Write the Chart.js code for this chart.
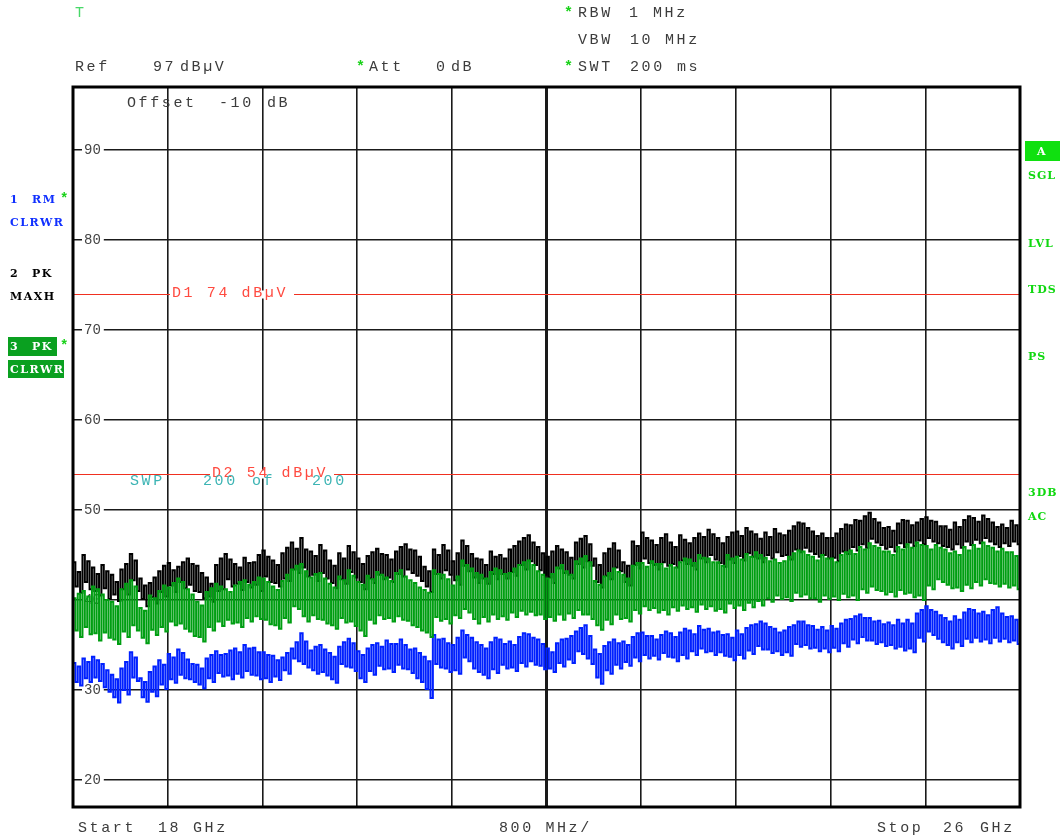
<!DOCTYPE html>
<html>
<head>
<meta charset="utf-8">
<script src="https://cdn.jsdelivr.net/npm/chart.js@4.4.0/dist/chart.umd.min.js"></script>
<style>
  html, body { margin: 0; padding: 0; background: #fff; }
  canvas { display: block; }
</style>
</head>
<body>
<canvas id="spectrum" width="1064" height="840"></canvas>
<script>
// Sweep 18 GHz .. 26 GHz, 401 points, 800 MHz per division
const startGHz = 18;
const stopGHz = 26;

const xTicks = [18, 18.8, 19.6, 20.4, 21.2, 22, 22.8, 23.6, 24.4, 25.2, 26];
const yTicks = [20, 30, 40, 50, 60, 70, 80, 90];
const yMin = 17;
const yMax = 97;

// display lines (dBµV)
const displayLineNames = ['D1', 'D2'];
const displayLines = [74, 54];

// trace 1: RM, clear/write (dBµV)
const trace1 = [
  33.0,30.9,32.6,30.5,33.5,31.3,33.1,30.9,33.7,31.4,33.3,31.0,32.9,30.3,32.2,29.8,31.7,29.2,31.2,28.6,
  32.4,30.0,33.1,29.5,34.2,31.4,33.6,31.0,31.3,29.2,30.9,28.7,32.0,29.8,32.6,29.3,33.3,30.6,32.8,30.1,
  34.0,31.2,33.6,30.8,34.5,31.7,34.1,31.3,33.4,31.2,32.9,30.9,32.8,30.6,32.4,30.2,33.5,31.3,33.9,30.9,
  34.3,31.9,33.9,31.5,34.0,31.6,34.4,31.2,34.6,31.8,34.2,31.4,35.0,32.1,34.6,31.7,34.7,31.6,34.2,31.2,
  34.2,31.3,33.9,30.9,33.8,31.5,33.3,31.1,33.6,32.2,34.1,31.8,34.6,33.5,35.3,33.2,36.3,32.9,35.4,32.5,
  34.4,32.2,34.8,31.8,35.0,32.0,34.5,31.6,34.1,31.2,33.7,30.8,34.8,32.9,35.3,32.6,35.7,32.5,35.2,32.1,
  34.3,31.3,33.9,30.9,34.6,32.1,35.0,31.7,35.2,32.7,34.8,32.3,35.5,32.4,35.1,32.0,35.1,32.8,35.6,32.4,
  35.0,32.3,34.5,31.9,34.6,31.3,34.1,30.9,33.7,30.1,33.2,29.1,36.1,32.9,35.6,32.5,35.7,32.4,35.2,32.0,
  35.0,32.2,35.8,31.8,36.6,33.6,36.1,33.2,35.8,32.4,35.3,32.0,35.0,31.7,34.6,31.3,35.3,32.3,35.8,31.9,
  35.6,32.8,35.1,32.4,35.4,32.5,35.0,32.1,35.9,33.0,36.3,32.6,36.2,33.2,35.8,32.8,35.6,32.7,35.1,32.3,
  34.6,32.4,34.2,32.0,35.2,33.0,35.6,32.6,35.7,33.4,36.0,33.0,36.5,34.3,36.9,34.0,37.2,33.5,36.0,32.9,
  34.5,31.4,34.0,30.7,34.9,32.2,35.3,31.8,35.6,32.8,35.2,32.4,35.4,33.1,35.0,32.7,35.9,33.6,36.3,33.2,
  36.4,33.9,36.0,33.5,36.0,33.8,35.6,33.4,36.1,34.1,36.5,33.7,36.3,33.6,35.9,33.2,36.4,33.9,36.8,33.5,
  36.6,34.3,36.2,33.9,37.1,34.6,36.7,34.2,36.8,34.3,36.4,33.9,36.5,34.2,36.1,33.8,36.2,33.7,35.8,33.3,
  36.6,33.9,36.2,33.5,36.9,34.4,37.2,34.0,37.3,34.9,37.6,34.5,37.4,34.5,37.0,34.1,36.8,34.3,36.4,33.9,
  36.6,34.2,37.0,33.8,37.2,35.1,37.6,34.8,37.6,35.0,37.2,34.6,37.1,34.7,36.7,34.3,37.0,34.6,36.6,34.2,
  37.1,34.7,36.8,34.3,37.4,35.2,37.8,34.8,37.9,35.6,38.2,35.2,38.4,35.9,38.0,35.5,38.0,35.5,37.6,35.1,
  37.7,35.3,37.3,34.9,37.5,35.0,37.2,34.6,37.8,34.8,37.4,34.4,37.8,34.6,37.4,34.2,38.5,35.8,38.9,35.4,
  39.3,36.5,38.9,36.1,38.7,35.7,38.3,35.3,38.0,35.0,37.6,34.6,38.2,35.3,37.8,34.9,38.6,35.7,39.0,35.3,
  38.9,35.8,38.5,35.4,38.7,35.6,38.3,35.2,38.9,35.8,39.2,35.4,38.5,35.7,38.1,35.3,38.2,35.5,37.8,35.1,
  37.5
];

// trace 2: PK, max hold (dBµV)
const trace2 = [
  44.2,41.5,43.1,40.8,45.0,42.0,44.3,41.2,43.6,41.0,42.9,40.5,43.9,41.3,43.2,40.1,42.8,40.6,42.0,39.9,
  43.4,41.2,44.0,40.6,45.1,42.2,44.4,41.0,42.4,40.1,41.6,39.3,41.9,40.3,42.5,39.6,43.2,40.9,43.8,40.4,
  44.1,41.6,43.3,40.9,43.7,42.0,44.2,41.3,44.6,41.7,44.0,41.0,43.8,40.9,43.0,40.2,42.5,40.4,41.8,39.8,
  43.9,41.0,44.6,41.2,45.1,42.3,44.5,41.5,44.0,41.8,43.6,41.1,44.7,42.0,44.1,41.4,44.2,41.7,45.0,41.0,
  45.5,42.6,44.8,42.0,44.4,41.9,43.9,41.5,45.2,42.4,45.8,42.1,46.4,43.4,45.7,43.0,46.9,43.6,45.6,42.6,
  45.4,42.8,44.9,42.1,46.1,43.0,45.5,42.4,44.4,41.9,43.8,41.3,45.2,42.3,44.6,41.8,46.0,43.1,45.3,42.5,
  44.6,42.0,44.0,41.2,44.9,42.4,45.3,41.9,45.7,42.8,45.1,42.3,45.0,42.5,44.5,42.0,45.4,42.9,45.9,42.6,
  46.2,43.4,45.6,43.0,45.5,42.7,44.8,42.1,43.7,41.5,43.2,40.9,45.6,42.9,45.0,42.4,46.1,43.3,45.5,42.8,
  44.3,42.2,45.2,41.7,46.6,43.8,46.0,43.2,45.1,42.5,44.6,41.9,44.5,42.4,43.9,41.8,45.4,42.9,44.8,42.3,
  45.0,42.9,44.6,42.4,45.6,43.1,46.0,42.7,46.5,43.9,46.9,43.4,47.2,44.3,46.4,43.9,45.9,43.3,45.2,42.8,
  44.8,42.5,45.4,41.9,46.0,43.5,45.6,43.0,45.3,42.8,44.7,42.4,46.4,44.0,46.8,43.6,47.1,44.3,46.2,43.8,
  44.6,42.0,43.9,41.4,45.2,42.7,45.7,42.3,46.3,43.6,45.5,43.2,44.2,42.0,43.8,41.6,46.5,43.9,46.0,43.5,
  47.5,44.6,46.9,44.1,46.6,43.9,46.1,43.4,46.9,44.2,47.3,43.8,46.4,44.0,45.9,43.6,47.2,44.4,46.7,44.0,
  46.3,43.8,46.9,43.4,47.4,44.6,47.0,44.2,47.8,45.0,47.3,44.5,46.9,44.1,46.3,43.7,47.0,44.5,47.5,44.1,
  47.6,44.9,47.1,44.4,48.0,45.2,47.6,44.8,47.3,44.6,46.8,44.2,47.5,45.0,47.0,44.6,47.9,45.3,47.4,44.9,
  47.2,45.0,47.7,44.5,48.2,45.6,48.6,45.3,48.5,45.8,48.0,45.4,47.6,45.1,47.1,44.8,47.4,45.0,46.9,44.6,
  46.9,44.7,47.4,44.3,47.9,45.4,48.4,45.1,48.3,45.9,48.9,45.5,48.8,46.2,49.3,45.8,49.7,46.8,49.0,46.4,
  48.6,46.1,48.0,45.7,48.1,45.9,47.7,45.4,48.5,46.3,48.9,45.9,48.8,46.4,48.3,46.0,48.6,46.6,49.0,46.2,
  49.2,46.9,48.8,46.5,48.7,46.3,48.2,46.0,48.2,45.9,47.8,45.6,48.6,46.2,48.1,45.8,48.9,46.5,49.3,46.1,
  49.1,46.7,48.7,46.3,49.4,46.9,49.0,46.5,48.6,46.2,48.1,45.9,48.4,46.3,48.0,46.0,48.8,46.5,48.3,46.2,
  47.8
];

// trace 3: PK, clear/write (dBµV)
const trace3 = [
  40.2,36.6,40.7,35.9,41.0,37.0,40.4,36.2,41.5,36.3,41.2,35.5,40.6,36.4,40.0,35.8,39.8,35.6,39.3,35.1,
  41.2,36.5,41.8,35.9,42.2,37.2,41.5,36.6,39.1,35.8,38.8,35.2,40.5,36.7,40.2,36.1,41.0,37.0,41.6,36.5,
  41.4,37.6,41.9,37.2,42.4,37.4,42.0,36.8,41.2,36.5,40.6,36.0,39.8,35.9,39.4,35.4,40.9,37.0,41.3,36.6,
  41.8,37.6,41.5,37.1,41.2,37.8,40.9,37.4,41.6,37.5,42.0,37.0,42.2,38.0,41.7,37.6,42.0,38.2,42.5,37.9,
  42.4,37.8,42.0,37.3,41.5,37.2,41.1,36.8,42.1,38.0,42.8,37.5,43.4,39.3,43.8,39.0,44.0,38.2,43.2,37.6,
  42.5,38.3,42.9,37.9,43.0,37.8,42.4,37.4,41.8,37.2,41.4,36.8,42.6,38.0,42.2,37.5,43.3,37.6,42.7,37.1,
  42.0,36.6,41.7,36.0,42.7,37.8,42.3,37.4,43.1,38.3,42.8,37.9,42.5,38.0,42.1,37.6,43.0,38.2,43.3,37.8,
  42.6,37.7,42.2,37.2,41.9,37.0,41.4,36.6,41.1,36.4,40.8,35.9,43.3,38.1,42.9,37.7,42.8,37.9,42.3,37.4,
  41.6,38.3,42.6,38.0,44.4,39.0,43.9,38.6,43.5,37.9,43.0,37.4,42.8,38.1,42.4,37.6,43.1,38.4,43.5,37.9,
  43.3,38.2,42.9,37.8,43.0,38.6,43.5,38.1,43.9,38.8,44.2,38.4,44.4,38.7,43.9,38.3,43.2,38.4,42.8,37.9,
  42.4,38.1,42.9,37.7,43.6,38.4,43.9,37.8,43.2,38.5,42.8,38.0,44.3,38.9,44.6,38.4,44.9,38.4,44.2,37.9,
  42.1,37.2,41.7,36.7,42.6,37.8,43.0,37.3,43.5,38.4,43.1,37.9,42.8,38.0,42.4,37.6,43.8,38.9,44.1,38.5,
  44.1,39.3,43.7,38.9,44.3,39.1,44.0,38.6,44.0,38.9,43.5,38.4,43.9,39.2,43.6,38.8,44.2,39.4,44.6,39.0,
  44.5,39.2,44.1,38.7,45.0,39.5,44.7,39.0,44.6,39.3,44.2,38.8,44.2,39.0,43.8,38.6,45.0,39.6,44.6,39.1,
  44.8,39.4,44.5,38.9,45.1,39.7,44.8,39.2,45.3,39.9,45.0,39.4,44.7,40.2,44.3,39.8,44.5,40.5,44.1,40.1,
  44.3,40.3,44.8,39.9,45.2,40.8,45.5,40.4,45.4,40.6,45.0,40.2,44.8,40.2,44.4,39.8,45.0,40.5,44.6,40.1,
  44.6,40.4,44.2,40.0,45.0,40.7,45.3,40.3,45.5,40.5,45.1,40.0,45.9,41.2,45.6,40.8,46.3,41.5,46.0,41.1,
  45.8,41.0,45.4,40.6,45.4,40.9,45.0,40.4,45.9,41.1,45.6,40.7,46.2,40.8,45.8,40.3,46.4,40.5,46.1,40.0,
  46.0,41.6,45.6,41.2,46.1,42.3,45.8,42.0,45.6,41.7,45.2,41.3,45.4,41.4,45.0,41.0,45.9,41.7,45.5,41.3,
  46.1,42.0,45.7,41.6,46.4,42.3,46.0,41.9,45.8,41.8,45.4,41.5,45.7,41.8,45.3,41.4,45.3,41.6,44.9,41.2,
  45.0
];

// one point per sweep bin, spread evenly from start to stop
function sweep(values) {
  const step = (stopGHz - startGHz) / (values.length - 1);
  return values.map((v, i) => ({ x: startGHz + i * step, y: v }));
}

const MONO = '"Liberation Mono", "DejaVu Sans Mono", monospace';
const SERIF = '"DejaVu Serif", "Liberation Serif", serif';

function put(ctx, text, x, y, color, font, spacing) {
  ctx.font = font;
  ctx.fillStyle = color;
  ctx.letterSpacing = spacing || '0px';
  ctx.textAlign = 'left';
  ctx.textBaseline = 'middle';
  ctx.fillText(text, x, y);
  ctx.letterSpacing = '0px';
}

// frame, display lines and the analyzer annotations around the grid
const screenText = {
  id: 'screenText',
  afterDatasetsDraw(chart) {
    const ctx = chart.ctx;
    const a = chart.chartArea;
    const y = chart.scales.y;
    const mono = '15px ' + MONO;
    const sp = '2.6px';
    const grey = '#3c3c3c';
    const star = '#19d219';

    ctx.save();

    // display lines with their labels
    const labelX = [172, 212];
    displayLines.forEach((lvl, i) => {
      const py = Math.round(y.getPixelForValue(lvl)) + 0.5;
      ctx.strokeStyle = '#f03020';
      ctx.lineWidth = 1.2;
      ctx.beginPath();
      ctx.moveTo(a.left, py);
      ctx.lineTo(a.right, py);
      ctx.stroke();
      const txt = displayLineNames[i] + ' ' + lvl + ' dBµV';
      ctx.font = mono;
      ctx.letterSpacing = sp;
      const w = ctx.measureText(txt).width;
      ctx.fillStyle = '#fff';
      ctx.fillRect(labelX[i] - 2, py - 4, w + 8, 8);
      put(ctx, txt, labelX[i], py - 1, '#ff4a40', mono, sp);
    });

    // sweep counter
    put(ctx, 'SWP', 130, 481, '#3cb4b4', mono, sp);
    put(ctx, '200', 203, 481, '#3cb4b4', mono, sp);
    put(ctx, 'of', 252, 481, '#3cb4b4', mono, sp);
    put(ctx, '200', 312, 481, '#3cb4b4', mono, sp);

    // offset note inside the grid
    put(ctx, 'Offset', 127, 103, grey, mono, sp);
    put(ctx, '-10', 219, 103, grey, mono, sp);
    put(ctx, 'dB', 267, 103, grey, mono, sp);

    // outer frame
    ctx.strokeStyle = '#000';
    ctx.lineWidth = 3;
    ctx.strokeRect(a.left, a.top, a.right - a.left, a.bottom - a.top);

    // header
    put(ctx, 'T', 75, 13, '#48d868', mono, sp);
    put(ctx, 'Ref', 75, 67, grey, mono, sp);
    put(ctx, '97', 153, 67, grey, mono, sp);
    put(ctx, 'dBµV', 180, 67, grey, mono, sp);
    put(ctx, '*', 356, 67, star, 'bold ' + mono);
    put(ctx, 'Att', 369, 67, grey, mono, sp);
    put(ctx, '0', 436, 67, grey, mono, sp);
    put(ctx, 'dB', 451, 67, grey, mono, sp);
    put(ctx, '*', 564, 13, star, 'bold ' + mono);
    put(ctx, 'RBW', 578, 13, grey, mono, sp);
    put(ctx, '1', 629, 13, grey, mono, sp);
    put(ctx, 'MHz', 653, 13, grey, mono, sp);
    put(ctx, 'VBW', 578, 40, grey, mono, sp);
    put(ctx, '10', 630, 40, grey, mono, sp);
    put(ctx, 'MHz', 665, 40, grey, mono, sp);
    put(ctx, '*', 564, 67, star, 'bold ' + mono);
    put(ctx, 'SWT', 578, 67, grey, mono, sp);
    put(ctx, '200', 630, 67, grey, mono, sp);
    put(ctx, 'ms', 677, 67, grey, mono, sp);

    // footer
    put(ctx, 'Start', 78, 828, grey, mono, sp);
    put(ctx, '18', 158, 828, grey, mono, sp);
    put(ctx, 'GHz', 193, 828, grey, mono, sp);
    put(ctx, '800 MHz/', 499, 828, grey, mono, sp);
    put(ctx, 'Stop', 877, 828, grey, mono, sp);
    put(ctx, '26', 943, 828, grey, mono, sp);
    put(ctx, 'GHz', 980, 828, grey, mono, sp);

    // trace labels on the left
    const lab = 'bold 11px ' + SERIF;
    const ls = '1.5px';
    put(ctx, '1', 10, 200, '#1030ff', lab, ls);
    put(ctx, 'RM', 32, 200, '#1030ff', lab, ls);
    put(ctx, '*', 60, 199, star, 'bold 14px ' + MONO);
    put(ctx, 'CLRWR', 10, 223, '#1030ff', lab, ls);
    put(ctx, '2', 10, 274, '#000', lab, ls);
    put(ctx, 'PK', 32, 274, '#000', lab, ls);
    put(ctx, 'MAXH', 10, 297, '#000', lab, ls);
    ctx.fillStyle = '#0aa020';
    ctx.fillRect(8, 337, 49, 19);
    ctx.fillRect(8, 360, 56, 18);
    put(ctx, '3', 10, 347, '#fff', lab, ls);
    put(ctx, 'PK', 32, 347, '#fff', lab, ls);
    put(ctx, '*', 60, 346, star, 'bold 14px ' + MONO);
    put(ctx, 'CLRWR', 10, 370, '#fff', lab, ls);

    // status flags on the right
    const flag = '#10d810';
    ctx.fillStyle = '#10e010';
    ctx.fillRect(1025, 141, 35, 20);
    put(ctx, 'A', 1037, 152, '#fff', lab, ls);
    put(ctx, 'SGL', 1028, 176, flag, lab, '1px');
    put(ctx, 'LVL', 1028, 244, flag, lab, '1px');
    put(ctx, 'TDS', 1028, 290, flag, lab, '1px');
    put(ctx, 'PS', 1028, 357, flag, lab, '1px');
    put(ctx, '3DB', 1028, 493, flag, lab, '1px');
    put(ctx, 'AC', 1028, 517, flag, lab, '1px');

    ctx.restore();
  }
};

const traceStyle = { stepped: true, pointRadius: 0, borderWidth: 2, fill: false };

new Chart(document.getElementById('spectrum'), {
  type: 'line',
  data: {
    datasets: [
      Object.assign({ label: '1 RM CLRWR', data: sweep(trace1), borderColor: '#0020ff', order: 2 }, traceStyle),
      Object.assign({ label: '2 PK MAXH', data: sweep(trace2), borderColor: '#000000', order: 1 }, traceStyle),
      Object.assign({ label: '3 PK CLRWR', data: sweep(trace3), borderColor: '#009e12', order: 0 }, traceStyle)
    ]
  },
  options: {
    responsive: false,
    animation: false,
    events: [],
    layout: { padding: { left: 73, top: 87, right: 44, bottom: 33 } },
    plugins: { legend: { display: false }, tooltip: { enabled: false } },
    scales: {
      x: {
        type: 'linear',
        min: startGHz,
        max: stopGHz,
        afterBuildTicks: s => { s.ticks = xTicks.map(v => ({ value: v })); },
        afterFit: s => { s.height = 0; },
        ticks: { display: false },
        border: { display: false },
        grid: {
          drawTicks: false,
          color: '#1a1a1a',
          lineWidth: c => (c.index === 5 ? 3 : 1.6)
        }
      },
      y: {
        min: yMin,
        max: yMax,
        afterBuildTicks: s => { s.ticks = yTicks.map(v => ({ value: v })); },
        afterFit: s => { s.width = 0; },
        border: { display: false },
        grid: { drawTicks: false, color: '#1a1a1a', lineWidth: 1.4 },
        ticks: {
          mirror: true,
          padding: 11,
          color: '#444',
          font: { family: MONO, size: 14 },
          showLabelBackdrop: true,
          backdropColor: '#fff',
          backdropPadding: { left: 2, right: 3, top: 0, bottom: 0 }
        }
      }
    }
  },
  plugins: [screenText]
});
</script>
</body>
</html>
